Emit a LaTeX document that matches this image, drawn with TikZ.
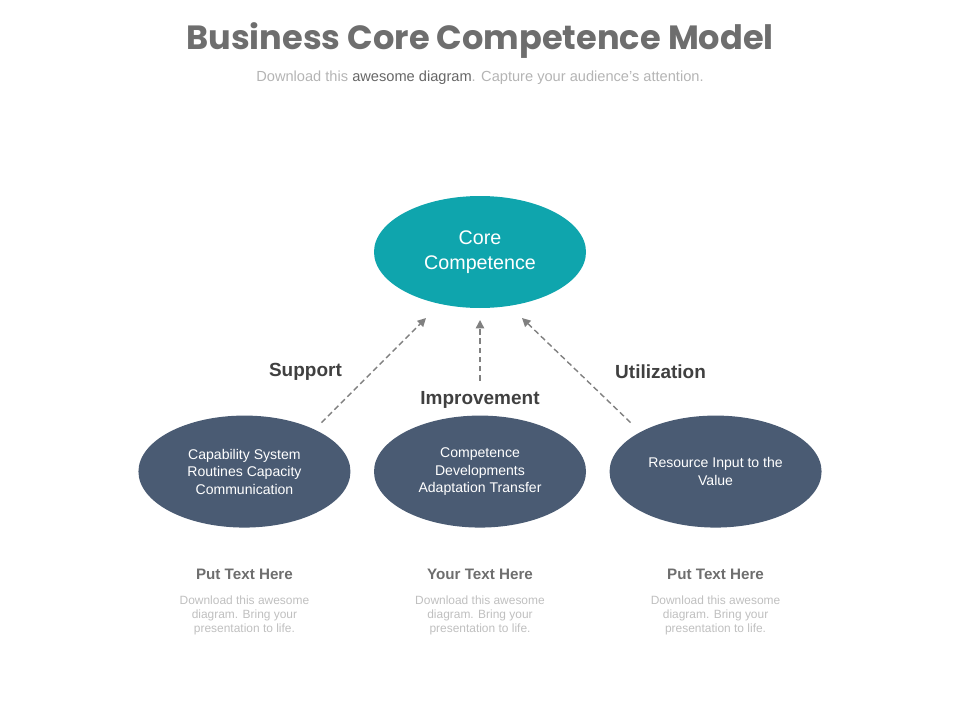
\documentclass[tikz,border=0pt]{standalone}
\usepackage{fontspec}
\setmainfont{Liberation Sans}
\newfontfamily\titlefont{Poppins}
\usetikzlibrary{arrows.meta,positioning,shapes}
\usepackage{xcolor}
\definecolor{coreteal}{HTML}{0FA5AD}
\definecolor{capblue}{HTML}{4A5B73}
\definecolor{titlegray}{HTML}{6E6E6E}
\definecolor{subgray}{HTML}{B4B4B4}
\definecolor{labelgray}{HTML}{404040}
\definecolor{arrowgray}{HTML}{808080}

\begin{document}
\begin{tikzpicture}[node distance=0.8cm]
	\tikzstyle{core_ell}
	  =[ellipse, fill=coreteal, minimum width=5.3cm, minimum height=2.8cm,
	  inner sep=0pt, text=white, align=center, font=\fontsize{14}{18}\selectfont]
	\tikzstyle{cap_ell}
	  =[ellipse, fill=capblue, minimum width=5.3cm, minimum height=2.8cm,
	  inner sep=0pt, text=white, align=center, font=\fontsize{10}{12.5}\selectfont]
	\tikzstyle{arrow_lbl}
	  =[text=labelgray, font=\fontsize{13.5}{16}\selectfont\bfseries]
	\tikzstyle{flow}
	  =[draw=arrowgray, line width=1pt, dash pattern=on 4pt off 2.5pt,
	  -{Triangle[length=6pt,width=6pt]}]
	\tikzstyle{head_txt}
	  =[text=titlegray, font=\fontsize{10.8}{13}\selectfont\bfseries]
	\tikzstyle{body_txt}
	  =[text=subgray!85, align=center, font=\fontsize{8.5}{10}\selectfont]

	\useasboundingbox (0,0) rectangle (24,18);

	% title
	\node[text=titlegray, font=\titlefont\fontsize{23.9}{28}\selectfont\bfseries] (title)
	  at (12,16.98) {Business Core Competence Model};
	\node[text=subgray, font=\fontsize{10.4}{12}\selectfont] (sub)
	  at (12,16.06) {Download this \textcolor{labelgray!80}{awesome diagram}. Capture your audience's attention.};

	% ellipses
	\node[core_ell] (core)
	  at (12,11.7) {Core\\Competence};
	\node[cap_ell] (cap2)
	  [below=2.675cm of core] {Competence\\Developments\\Adaptation Transfer};
	\node[cap_ell] (cap1)
	  [left=0.575cm of cap2] {Capability System\\Routines Capacity\\Communication};
	\node[cap_ell] (cap3)
	  [right=0.575cm of cap2] {Resource Input to the\\Value};

	% arrows
	\coordinate (s1) at ([shift={(1.925,1.225)}]cap1.center);
	\coordinate (e1) at ([shift={(-1.35,-1.65)}]core.center);
	\coordinate (s2) at ([shift={(0,2.275)}]cap2.center);
	\coordinate (e2) at ([shift={(0,-1.7)}]core.center);
	\coordinate (s3) at ([shift={(-2.125,1.225)}]cap3.center);
	\coordinate (e3) at ([shift={(1.05,-1.65)}]core.center);
	\draw[flow] (s1) -- (e1);
	\draw[flow] (s2) -- (e2);
	\draw[flow] (s3) -- (e3);

	\node[arrow_lbl] (support)
	  at ([shift={(1.525,2.5)}]cap1.center) {Support};
	\node[arrow_lbl] (improve)
	  at ([shift={(0,1.8)}]cap2.center) {Improvement};
	\node[arrow_lbl] (utilize)
	  at ([shift={(-1.375,2.5)}]cap3.center) {Utilization};

	% texts below
	\node[head_txt] (h1)
	  [below=0.9cm of cap1] {Put Text Here};
	\node[body_txt] (b1)
	  [below=0.15cm of h1] {Download this awesome\\diagram. Bring your\\presentation to life.};
	\node[head_txt] (h2)
	  [below=0.9cm of cap2] {Your Text Here};
	\node[body_txt] (b2)
	  [below=0.15cm of h2] {Download this awesome\\diagram. Bring your\\presentation to life.};
	\node[head_txt] (h3)
	  [below=0.9cm of cap3] {Put Text Here};
	\node[body_txt] (b3)
	  [below=0.15cm of h3] {Download this awesome\\diagram. Bring your\\presentation to life.};
\end{tikzpicture}
\end{document}
